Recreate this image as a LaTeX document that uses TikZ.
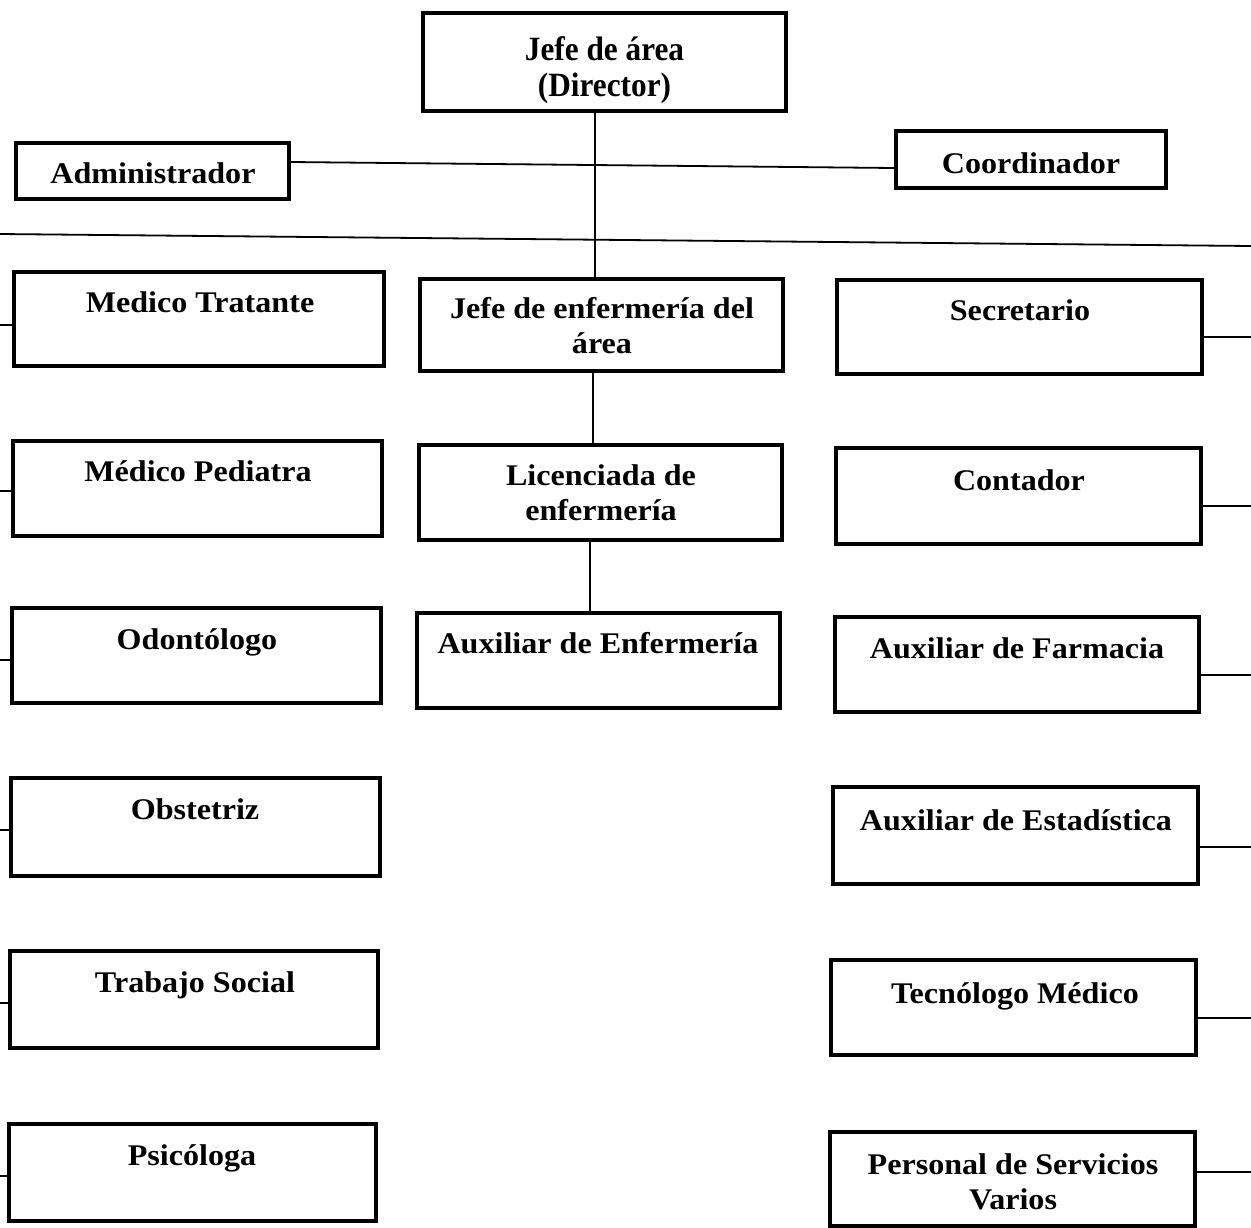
\documentclass[tikz,border=0pt]{standalone}
\usepackage{fontspec}
\setmainfont{Liberation Serif}[FakeStretch=1.07]
\newfontfamily\dirfont{Liberation Serif}[FakeStretch=0.92]
\newcommand{\twol}[2]{\begin{tabular}[t]{@{}c@{}}#1\\#2\end{tabular}}
\begin{document}
\begin{tikzpicture}[x=1pt,y=-1pt,
  box/.style={draw=black,line width=3.2pt,rectangle,inner sep=0pt},
  lbl/.style={font=\bfseries\fontsize{30}{35}\selectfont,inner sep=0pt,anchor=base},
  dlbl/.style={font=\dirfont\bfseries\fontsize{34}{36}\selectfont,inner sep=0pt,anchor=base},
  conn/.style={draw=black,line width=1.8pt}]
\useasboundingbox (0,0) rectangle (1251,1227);
% boxes
\node[box,minimum width=363pt,minimum height=98pt] (dir) at (604.5,62) {};
\node[box,minimum width=273pt,minimum height=56pt] (adm) at (152.5,171) {};
\node[box,minimum width=270pt,minimum height=57pt] (coo) at (1031,159.5) {};
\node[box,minimum width=370pt,minimum height=94pt] (l1) at (199,319) {};
\node[box,minimum width=369pt,minimum height=95pt] (l2) at (197.5,488.5) {};
\node[box,minimum width=369pt,minimum height=95pt] (l3) at (196.5,655.5) {};
\node[box,minimum width=369pt,minimum height=98pt] (l4) at (195.5,827) {};
\node[box,minimum width=368pt,minimum height=97pt] (l5) at (194,999.5) {};
\node[box,minimum width=367pt,minimum height=97pt] (l6) at (192.5,1172.5) {};
\node[box,minimum width=363pt,minimum height=92pt] (m1) at (601.5,325) {};
\node[box,minimum width=363pt,minimum height=95pt] (m2) at (600.5,492.5) {};
\node[box,minimum width=363pt,minimum height=95pt] (m3) at (598.5,660.5) {};
\node[box,minimum width=365pt,minimum height=94pt] (r1) at (1019.5,327) {};
\node[box,minimum width=365pt,minimum height=96pt] (r2) at (1018.5,496) {};
\node[box,minimum width=364pt,minimum height=95pt] (r3) at (1017,664.5) {};
\node[box,minimum width=365pt,minimum height=97pt] (r4) at (1015.5,835.5) {};
\node[box,minimum width=365pt,minimum height=95pt] (r5) at (1013.5,1007.5) {};
\node[box,minimum width=365pt,minimum height=94pt] (r6) at (1012.5,1179) {};
% labels (placed at first-line baselines)
\node[dlbl] (tdir) at (604.5,60) {\twol{Jefe de área}{(Director)}};
\node[lbl] (tadm) at (153,183) {Administrador};
\node[lbl] (tcoo) at (1031,173) {Coordinador};
\node[lbl] (tl1) at (200,312) {Medico Tratante};
\node[lbl] (tl2) at (198,481) {Médico Pediatra};
\node[lbl] (tl3) at (197,649) {Odontólogo};
\node[lbl] (tl4) at (195,819) {Obstetriz};
\node[lbl] (tl5) at (195,992) {Trabajo Social};
\node[lbl] (tl6) at (192,1165) {Psicóloga};
\node[lbl] (tm1) at (602,318) {\twol{Jefe de enfermería del}{área}};
\node[lbl] (tm2) at (601,485) {\twol{Licenciada de}{enfermería}};
\node[lbl] (tm3) at (598,653) {Auxiliar de Enfermería};
\node[lbl] (tr1) at (1020,320) {Secretario};
\node[lbl] (tr2) at (1019,490) {Contador};
\node[lbl] (tr3) at (1017,658) {Auxiliar de Farmacia};
\node[lbl] (tr4) at (1016,830) {Auxiliar de Estadística};
\node[lbl] (tr5) at (1015,1003) {Tecnólogo Médico};
\node[lbl] (tr6) at (1013,1174) {\twol{Personal de Servicios}{Varios}};
% helper coordinates
\coordinate (ac1) at (289,162);
\coordinate (ac2) at (896,168);
\coordinate (busL) at (0,234);
\coordinate (busR) at (1251,246);
\coordinate (v1) at (595,0);
\coordinate (v2) at (593,0);
\coordinate (v3) at (590,0);
\coordinate (edgeL) at (0,0);
\coordinate (edgeR) at (1251,0);
% connectors
\draw[conn] (adm.east |- ac1) -- (coo.west |- ac2);
\draw[conn] (busL) -- (busR);
\draw[conn] (dir.south -| v1) -- (m1.north -| v1);
\draw[conn] (m1.south -| v2) -- (m2.north -| v2);
\draw[conn] (m2.south -| v3) -- (m3.north -| v3);
\foreach \n/\yy in {l1/325,l2/491,l3/660,l4/830,l5/1003,l6/1176}{
  \draw[conn] (\n.west |- 0,\yy) -- (edgeL |- 0,\yy);
}
\foreach \n/\yy in {r1/337,r2/506,r3/675,r4/847,r5/1018,r6/1172}{
  \draw[conn] (\n.east |- 0,\yy) -- (edgeR |- 0,\yy);
}
\end{tikzpicture}
\end{document}
